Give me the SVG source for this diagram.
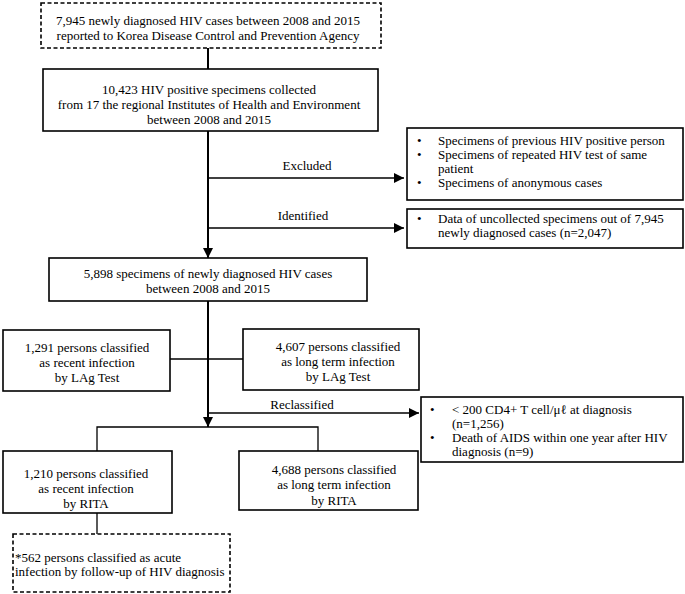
<svg xmlns="http://www.w3.org/2000/svg" width="685" height="594" viewBox="0 0 685 594">
<defs>
<style>
text{font-family:"Liberation Serif","Times New Roman",serif;font-size:13px;fill:#000}
.c{text-anchor:middle}
.box{fill:#fff;stroke:#000;stroke-width:1.6}
.dash{fill:#fff;stroke:#000;stroke-width:1.6;stroke-dasharray:4 2.5}
.ln{fill:none;stroke:#000;stroke-width:2}
.thin{fill:none;stroke:#000;stroke-width:1.3}
</style>
<marker id="ah" viewBox="0 0 10 10" refX="10" refY="5" markerWidth="10" markerHeight="10" markerUnits="userSpaceOnUse" orient="auto">
<path d="M0,0 L10,5 L0,10 Z" fill="#000"/>
</marker>
</defs>
<g id="connectors">
<line class="ln" x1="208" y1="48" x2="208" y2="69"/>
<line class="ln" x1="208" y1="131" x2="208" y2="258" marker-end="url(#ah)"/>
<line class="thin" x1="208" y1="178" x2="404" y2="178" marker-end="url(#ah)"/>
<line class="thin" x1="208" y1="228" x2="404" y2="228" marker-end="url(#ah)"/>
<line class="ln" x1="208" y1="301" x2="208" y2="427" marker-end="url(#ah)"/>
<line class="thin" x1="170" y1="359" x2="243" y2="359"/>
<line class="thin" x1="208" y1="413" x2="419" y2="413" marker-end="url(#ah)"/>
<polyline class="thin" points="97,451 97,427 318,427 318,451"/>
<line class="thin" x1="97" y1="513" x2="97" y2="534"/>
<text class="c" x="307" y="170">Excluded</text>
<text class="c" x="303" y="220">Identified</text>
<text class="c" x="302" y="409">Reclassified</text>
</g>
<g id="n1">
<rect class="dash" x="41" y="3" width="340" height="45"/>
<text class="c" x="208" y="25">7,945 newly diagnosed HIV cases between 2008 and 2015</text>
<text class="c" x="208" y="40">reported to Korea Disease Control and Prevention Agency</text>
</g>
<g id="n2">
<rect class="box" x="43" y="69" width="335" height="62"/>
<text class="c" x="209" y="94">10,423 HIV positive specimens collected</text>
<text class="c" x="209" y="109">from 17 the regional Institutes of Health and Environment</text>
<text class="c" x="209" y="124">between 2008 and 2015</text>
</g>
<g id="excluded">
<rect class="box" x="407" y="128" width="276" height="72"/>
<text x="417" y="145">•</text><text x="438" y="145">Specimens of previous HIV positive person</text>
<text x="417" y="159">•</text><text x="438" y="159">Specimens of repeated HIV test of same</text>
<text x="438" y="173">patient</text>
<text x="417" y="187">•</text><text x="438" y="187">Specimens of anonymous cases</text>
</g>
<g id="identified">
<rect class="box" x="407" y="209" width="276" height="39"/>
<text x="417" y="223">•</text><text x="438" y="223">Data of uncollected specimens out of  7,945</text>
<text x="438" y="237">newly diagnosed cases (n=2,047)</text>
</g>
<g id="n3">
<rect class="box" x="49" y="258" width="318" height="43"/>
<text class="c" x="208" y="278">5,898 specimens of newly diagnosed HIV cases</text>
<text class="c" x="208" y="293">between 2008 and 2015</text>
</g>
<g id="lag-recent">
<rect class="box" x="3" y="330" width="167" height="61"/>
<text class="c" x="87" y="352">1,291 persons classified</text>
<text class="c" x="87" y="367">as recent infection</text>
<text class="c" x="87" y="382">by LAg Test</text>
</g>
<g id="lag-long">
<rect class="box" x="243" y="329" width="176" height="61"/>
<text class="c" x="338" y="351">4,607 persons classified</text>
<text class="c" x="338" y="366">as long term infection</text>
<text class="c" x="338" y="381">by LAg Test</text>
</g>
<g id="reclassified">
<rect class="box" x="421" y="397" width="262" height="65"/>
<text x="430" y="414">•</text><text x="452" y="414">&lt; 200 CD4+ T cell/μℓ at diagnosis</text>
<text x="452" y="428">(n=1,256)</text>
<text x="430" y="442">•</text><text x="452" y="442">Death of AIDS within one year after HIV</text>
<text x="452" y="456">diagnosis (n=9)</text>
</g>
<g id="rita-recent">
<rect class="box" x="3" y="451" width="169" height="62"/>
<text class="c" x="86" y="478">1,210 persons classified</text>
<text class="c" x="86" y="493">as recent infection</text>
<text class="c" x="86" y="508">by RITA</text>
</g>
<g id="rita-long">
<rect class="box" x="239" y="451" width="179" height="59"/>
<text class="c" x="334" y="474">4,688 persons classified</text>
<text class="c" x="334" y="489">as long term infection</text>
<text class="c" x="334" y="505">by RITA</text>
</g>
<g id="acute">
<rect class="dash" x="13" y="534" width="217" height="58"/>
<text x="15" y="562">*562 persons classified as acute</text>
<text x="15" y="576">infection by follow-up of HIV diagnosis</text>
</g>
</svg>
